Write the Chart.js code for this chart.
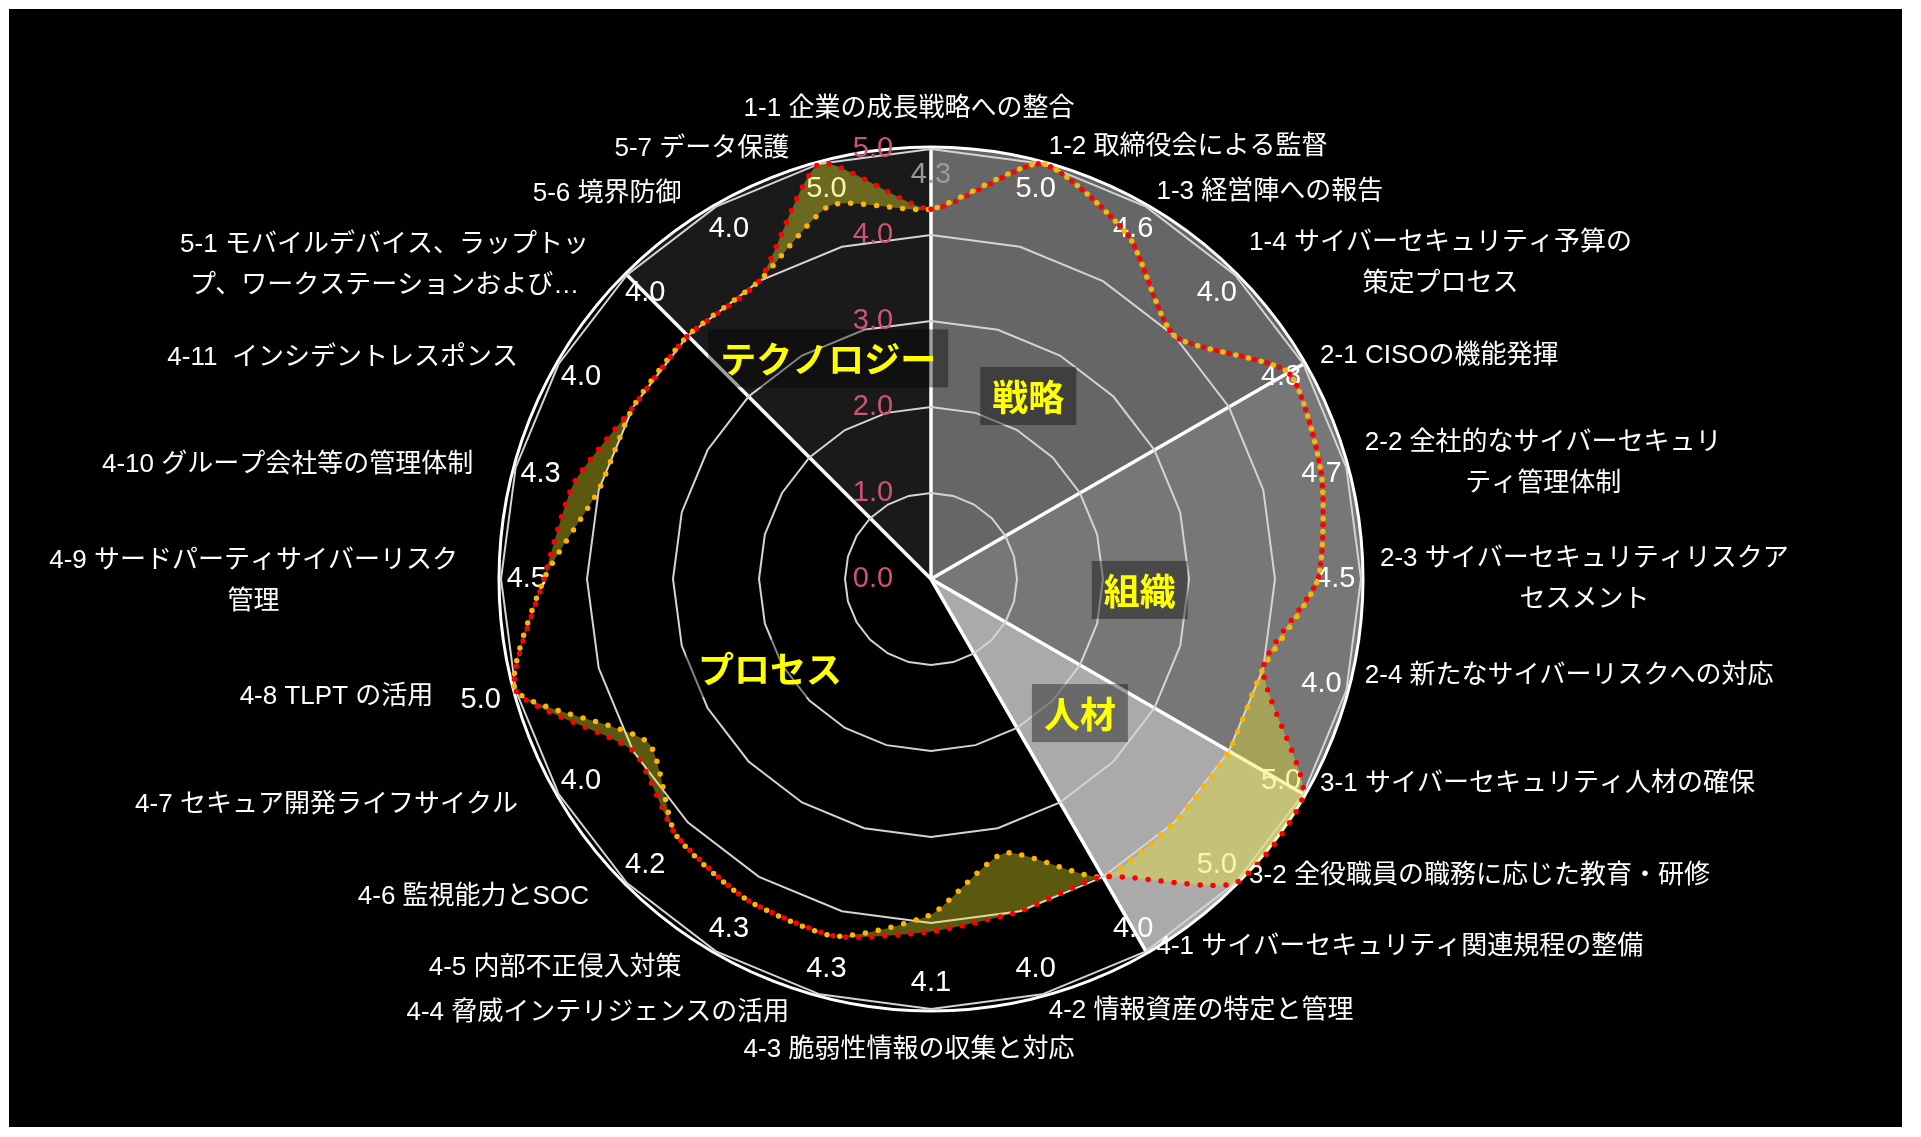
<!DOCTYPE html>
<html lang="ja">
<head>
<meta charset="utf-8">
<title>サイバーセキュリティ評価レーダー</title>
<script src="https://cdn.jsdelivr.net/npm/chart.js@4.4.1/dist/chart.umd.min.js"></script>
<style>
  html, body { margin: 0; padding: 0; background: #fff; }
  canvas { display: block; }
</style>
</head>
<body>
<canvas id="radarChart" width="1921" height="1137"></canvas>
<script>
// 評価項目
const categories = [
  '1-1 企業の成長戦略への整合',
  '1-2 取締役会による監督',
  '1-3 経営陣への報告',
  ['1-4 サイバーセキュリティ予算の', '策定プロセス'],
  '2-1 CISOの機能発揮',
  ['2-2 全社的なサイバーセキュリ', 'ティ管理体制'],
  ['2-3 サイバーセキュリティリスクア', 'セスメント'],
  '2-4 新たなサイバーリスクへの対応',
  '3-1 サイバーセキュリティ人材の確保',
  '3-2 全役職員の職務に応じた教育・研修',
  '4-1 サイバーセキュリティ関連規程の整備',
  '4-2 情報資産の特定と管理',
  '4-3 脆弱性情報の収集と対応',
  '4-4 脅威インテリジェンスの活用',
  '4-5 内部不正侵入対策',
  '4-6 監視能力とSOC',
  '4-7 セキュア開発ライフサイクル',
  '4-8 TLPT の活用',
  ['4-9 サードパーティサイバーリスク', '管理'],
  '4-10 グループ会社等の管理体制',
  '4-11  インシデントレスポンス',
  ['5-1 モバイルデバイス、ラップトッ', 'プ、ワークステーションおよび…'],
  '5-6 境界防御',
  '5-7 データ保護'
];

// 評価値（赤の点線、数値ラベル付き）
const scores = [4.3, 5.0, 4.6, 4.0, 4.8, 4.7, 4.5, 4.0, 5.0, 5.0, 4.0, 4.0,
                4.1, 4.3, 4.3, 4.2, 4.0, 5.0, 4.5, 4.3, 4.0, 4.0, 4.0, 5.0];

// 比較値（オレンジの点線）
const compareScores = [4.3, 5.0, 4.6, 4.0, 4.8, 4.7, 4.5, 4.0, 4.0, 4.0, 4.0, 3.3,
                       3.9, 4.3, 4.3, 4.2, 3.8, 5.0, 4.5, 4.0, 4.0, 4.0, 4.0, 4.5];

// 目盛
const tickValues = [0, 1, 2, 3, 4, 5];

// 分野と、その分野が始まる項目の番号
const groupNames = ['戦略', '組織', '人材', 'プロセス', 'テクノロジー'];
const groupStarts = [0, 4, 8, 10, 21];

// 見た目の設定
const groupColors = ['#666666', '#777777', '#aaaaaa', '#000000', '#1a1a1a'];
const groupLabelAt = [[28, 2.41], [93, 2.43], [132, 2.33], [241, 2.14], [335, 2.83]]; // 角度(度), 半径(値)
const outsideLabels = [17];
const FONT = '"Liberation Sans", "Noto Sans CJK JP", sans-serif';

function angleOf(s, i) {
  return s.getIndexAngle(0) + i * 2 * Math.PI / categories.length - Math.PI / 2;
}

// 背景と分野の扇形
const backdrop = {
  id: 'backdrop',
  beforeDraw(chart) {
    const ctx = chart.ctx, s = chart.scales.r;
    const R = s.drawingArea + 2;
    ctx.save();
    ctx.fillStyle = '#ffffff';
    ctx.fillRect(0, 0, chart.width, chart.height);
    ctx.fillStyle = '#000000';
    ctx.fillRect(9, 9, 1893, 1118);

    groupStarts.forEach((start, g) => {
      const end = g + 1 < groupStarts.length ? groupStarts[g + 1] : categories.length;
      ctx.beginPath();
      ctx.moveTo(s.xCenter, s.yCenter);
      ctx.arc(s.xCenter, s.yCenter, R, angleOf(s, start), angleOf(s, end));
      ctx.closePath();
      ctx.fillStyle = groupColors[g];
      ctx.fill();
    });

    ctx.strokeStyle = '#ffffff';
    ctx.lineWidth = 3.5;
    groupStarts.forEach(start => {
      const a = angleOf(s, start);
      ctx.beginPath();
      ctx.moveTo(s.xCenter, s.yCenter);
      ctx.lineTo(s.xCenter + Math.cos(a) * R, s.yCenter + Math.sin(a) * R);
      ctx.stroke();
    });
    ctx.lineWidth = 3;
    ctx.beginPath();
    ctx.arc(s.xCenter, s.yCenter, R, 0, 2 * Math.PI);
    ctx.stroke();
    ctx.restore();
  }
};

// 目盛ラベル・分野名・数値ラベル（塗りの下に描く）
const underlay = {
  id: 'underlay',
  beforeDatasetsDraw(chart) {
    const ctx = chart.ctx, s = chart.scales.r;
    ctx.save();
    ctx.textAlign = 'center';
    ctx.textBaseline = 'middle';

    ctx.font = '29px ' + FONT;
    ctx.fillStyle = '#cc5570';
    s.ticks.forEach(t => {
      ctx.fillText(t.value.toFixed(1), s.xCenter - 58, s.yCenter - s.getDistanceFromCenterForValue(t.value));
    });

    ctx.font = 'bold 36px "Noto Sans CJK JP", sans-serif';
    groupNames.forEach((name, g) => {
      const [deg, v] = groupLabelAt[g];
      const a = s.getIndexAngle(0) + deg * Math.PI / 180 - Math.PI / 2;
      const d = s.getDistanceFromCenterForValue(v);
      const x = s.xCenter + Math.cos(a) * d;
      const y = s.yCenter + Math.sin(a) * d;
      const w = ctx.measureText(name).width + 24;
      ctx.fillStyle = 'rgba(0,0,0,0.38)';
      ctx.fillRect(x - w / 2, y - 29, w, 58);
      ctx.fillStyle = '#ffff00';
      ctx.fillText(name, x, y + 1);
    });

    ctx.font = '29px ' + FONT;
    scores.forEach((v, i) => {
      const p = s.getPointPositionForValue(i, outsideLabels.includes(i) ? 5.42 : 4.7);
      ctx.fillStyle = i === 0 ? '#9a9a9a' : '#ffffff';
      ctx.fillText(v.toFixed(1), p.x, p.y);
    });
    ctx.restore();
  }
};

// 項目名
const axisLabels = {
  id: 'axisLabels',
  afterDraw(chart) {
    const ctx = chart.ctx, s = chart.scales.r;
    const lineH = 41;
    ctx.save();
    ctx.font = '26px ' + FONT;
    ctx.fillStyle = '#ffffff';
    ctx.textAlign = 'center';
    ctx.textBaseline = 'middle';
    categories.forEach((label, i) => {
      const lines = Array.isArray(label) ? label : [label];
      const p = s.getPointPosition(i, s.drawingArea + 17);
      const dx = Math.cos(p.angle), dy = Math.sin(p.angle);
      const w = Math.max(...lines.map(t => ctx.measureText(t).width));
      const H = lines.length * lineH;
      let cx, cy;
      if (Math.abs(dx) < 0.1) {
        cx = p.x - 22;
        cy = p.y + dy * (H / 2 + 3);
      } else if (dx > 0) {
        cx = p.x + 2 + w / 2;
        cy = p.y + (dy > 0.1 && dx > 0.3 ? -19 : 0);
      } else {
        cx = p.x - 26 - (outsideLabels.includes(i) ? 40 : 0) - w / 2;
        cy = p.y + 2;
      }
      lines.forEach((t, j) => ctx.fillText(t, cx, cy - H / 2 + lineH * (j + 0.5)));
    });
    ctx.restore();
  }
};

new Chart(document.getElementById('radarChart'), {
  type: 'radar',
  data: {
    labels: categories,
    datasets: [{
      label: '評価',
      data: scores,
      borderColor: '#ff0000',
      borderWidth: 5.5,
      borderDash: [0, 13],
      borderCapStyle: 'round',
      pointRadius: 0,
      tension: 0.2,
      fill: false
    }, {
      label: '比較',
      data: compareScores,
      borderColor: '#ffb400',
      borderWidth: 5.5,
      borderDash: [0, 13],
      borderDashOffset: 6.5,
      borderCapStyle: 'round',
      backgroundColor: 'rgba(240, 235, 40, 0.38)',
      pointRadius: 0,
      tension: 0.2,
      fill: '-1'
    }]
  },
  options: {
    responsive: false,
    devicePixelRatio: 1,
    animation: false,
    layout: { padding: { left: 501, right: 560, top: 149, bottom: 128 } },
    plugins: { legend: { display: false }, tooltip: { enabled: false } },
    scales: {
      r: {
        min: tickValues[0],
        max: tickValues[tickValues.length - 1],
        ticks: { stepSize: 1, display: false },
        grid: { color: '#d4d4d4', lineWidth: 2 },
        angleLines: { display: false },
        pointLabels: { display: false }
      }
    }
  },
  plugins: [backdrop, underlay, axisLabels]
});
</script>
</body>
</html>
